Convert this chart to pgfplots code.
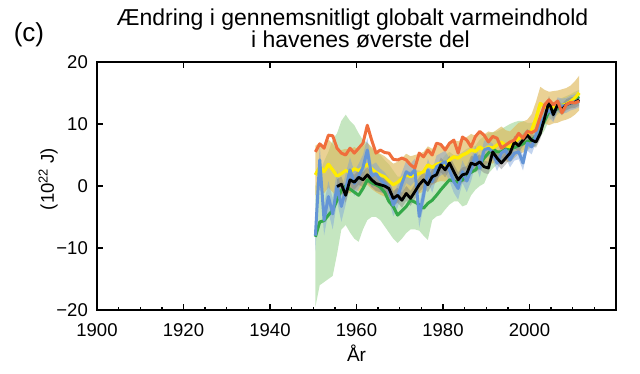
\documentclass[border=0pt]{standalone}
\usepackage{fontspec}
\setmainfont{Liberation Sans}
\usepackage{pgfplots}
\usepackage{pgfplotstable}
\pgfplotsset{compat=1.18}
\usepgfplotslibrary{fillbetween}

\definecolor{cOrange}{RGB}{240,110,60}
\definecolor{cYellow}{RGB}{255,236,0}
\definecolor{cBlue}{RGB}{100,149,214}
\definecolor{cGreen}{RGB}{52,168,72}
\definecolor{bGreen}{RGB}{150,210,140}
\definecolor{bTan}{RGB}{222,185,90}
\definecolor{bBlue}{RGB}{120,160,220}
\definecolor{bGrey}{RGB}{120,120,120}

\pgfplotstableread{
x o yl b g tl tu bl bu gl gu
1950.5 5.5 1.8 -8.0 -8.2 -1.5 6.5 -10.5 -5.5 -19.5 0.0
1951.5 6.8 3.1 4.2 -5.8 -0.5 7.0 1.7 6.7 -16.0 2.0
1952.5 6.1 2.3 -5.5 -5.6 -1.2 6.3 -8.0 -3.0 -15.5 4.0
1953.5 8.2 3.5 -1.7 -4.7 -0.2 7.5 -4.2 0.8 -15.0 5.5
1954.5 8.1 2.6 -4.5 -3.9 -1.0 6.8 -7.0 -2.0 -14.5 7.5
1955.5 6.1 1.6 0.0 -2.3 -1.8 5.8 -2.5 2.5 -11.0 8.5
1956.5 5.3 2.0 -3.3 -0.7 -1.4 5.8 -5.8 -0.8 -7.0 10.5
1957.5 5.0 2.5 -0.5 0.0 -0.9 6.0 -3.0 2.0 -6.3 11.5
1958.5 6.1 2.2 2.6 -0.5 -1.2 5.8 0.6 4.6 -7.5 10.5
1959.5 5.3 2.8 0.4 -1.0 -0.6 6.3 -1.6 2.4 -8.5 9.8
1960.5 6.1 2.5 1.6 -1.5 -0.8 5.8 -0.4 3.6 -9.0 8.5
1961.5 6.9 3.0 3.0 -0.4 -0.3 6.5 1.0 5.0 -7.0 7.4
1962.5 9.8 3.5 5.8 1.0 0.2 7.0 3.8 7.8 -5.5 7.0
1963.5 7.4 2.8 1.6 0.5 -0.5 6.3 -0.2 3.4 -5.0 6.0
1964.5 5.3 2.2 2.0 0.2 -1.0 5.5 0.2 3.8 -5.0 5.5
1965.5 5.8 1.8 1.0 -0.2 -1.4 5.2 -0.8 2.8 -5.5 5.0
1966.5 5.4 1.5 0.4 -1.0 -1.7 4.8 -1.4 2.2 -6.5 4.2
1967.5 5.3 0.8 -0.5 -2.5 -2.4 4.2 -2.3 1.3 -7.5 3.5
1968.5 4.3 0.2 -3.1 -3.3 -3.0 3.6 -4.9 -1.3 -8.5 2.5
1969.5 4.2 0.6 -1.7 -4.7 -2.6 3.9 -3.5 0.1 -9.2 1.5
1970.5 4.5 1.2 0.4 -4.0 -2.1 4.5 -1.4 2.2 -8.5 1.5
1971.5 4.2 1.8 2.3 -3.3 -1.6 5.2 0.5 4.1 -7.6 2.0
1972.5 3.4 1.5 1.8 -2.3 -1.8 4.8 0.0 3.6 -7.0 2.5
1973.5 2.9 1.8 2.6 -2.6 -1.5 5.0 0.8 4.4 -7.0 2.5
1974.5 5.3 2.0 -4.9 -3.0 -1.2 5.2 -6.7 -3.1 -7.2 2.5
1975.5 4.7 2.3 -1.5 -3.6 -0.9 5.5 -3.3 0.3 -8.0 2.0
1976.5 5.8 3.4 2.6 -2.8 0.4 6.4 0.8 4.4 -8.7 2.5
1977.5 5.0 3.0 0.7 -2.3 0.1 6.0 -1.1 2.5 -5.5 3.0
1978.5 6.9 3.5 3.1 -1.5 0.6 6.5 1.3 4.9 -4.9 3.5
1979.5 6.7 3.7 3.5 -0.6 0.8 6.6 1.7 5.3 -4.7 4.0
1980.5 5.8 3.5 3.9 0.2 0.7 6.3 2.1 5.7 -3.8 5.0
1981.5 6.9 4.2 2.6 1.0 1.4 7.0 0.8 4.4 -3.0 5.5
1982.5 7.4 4.7 0.7 0.8 2.0 7.4 -1.1 2.5 -2.5 5.0
1983.5 5.3 4.5 -0.4 0.6 1.8 7.2 -2.2 1.4 -2.5 5.0
1984.5 7.9 5.0 2.3 1.0 2.4 7.6 0.5 4.1 -3.3 5.5
1985.5 7.4 5.3 0.8 1.8 2.7 7.9 -1.0 2.6 -3.0 6.0
1986.5 6.3 5.8 2.6 2.2 3.2 8.4 0.8 4.4 -1.5 6.3
1987.5 8.0 5.6 5.0 2.6 3.1 8.1 3.5 6.5 -0.6 6.5
1988.5 8.8 6.3 2.9 3.5 3.8 8.8 1.4 4.4 0.0 7.5
1989.5 8.2 5.8 5.8 4.5 3.3 8.3 4.3 7.3 0.4 8.0
1990.5 7.1 6.3 6.1 5.3 3.8 8.8 4.8 7.4 2.0 8.5
1991.5 8.0 6.1 5.5 6.0 3.6 8.6 4.2 6.8 2.8 8.7
1992.5 7.7 6.6 3.7 5.5 4.1 9.1 2.4 5.0 3.5 8.8
1993.5 6.1 7.1 5.3 5.5 4.6 9.6 4.1 6.5 4.0 9.2
1994.5 6.6 6.5 5.8 6.0 4.0 9.0 4.6 7.0 4.5 9.6
1995.5 7.1 6.3 4.2 6.0 3.8 8.8 3.0 5.4 4.7 10.0
1996.5 7.4 7.0 5.3 6.2 4.5 9.5 4.1 6.5 5.0 10.3
1997.5 8.5 7.7 5.5 6.5 5.2 10.2 4.3 6.7 5.5 10.5
1998.5 7.7 7.9 3.7 6.8 5.4 10.4 2.5 4.9 5.8 10.5
1999.5 8.8 8.2 6.9 7.2 5.7 10.7 5.7 8.1 6.0 10.2
2000.5 8.6 9.0 6.3 7.4 6.4 11.6 5.1 7.5 6.3 10.2
2001.5 9.0 10.9 8.2 8.0 8.2 13.6 7.0 9.4 6.5 10.5
2002.5 11.2 13.3 10.1 9.3 10.5 16.0 8.9 11.3 7.9 11.3
2003.5 13.1 12.8 11.2 10.5 10.1 15.5 10.0 12.4 9.0 12.3
2004.5 13.9 12.5 12.3 12.0 9.8 15.2 11.1 13.5 10.6 13.3
2005.5 13.1 12.7 11.5 12.0 10.1 15.3 10.3 12.7 11.0 13.5
2006.5 13.7 12.8 13.1 12.5 10.2 15.4 11.9 14.3 11.5 13.8
2007.5 11.8 13.0 12.9 13.0 10.5 15.6 11.7 14.1 12.0 14.2
2008.5 13.1 13.2 13.0 13.2 10.7 15.8 11.8 14.2 12.3 14.5
2009.5 13.5 13.6 13.4 13.5 11.0 16.2 12.2 14.6 12.6 14.8
2010.5 13.4 14.2 13.6 14.0 11.5 16.9 12.4 14.8 13.0 15.2
2011.5 13.7 15.0 13.9 14.4 12.2 17.8 12.7 15.1 13.4 15.5
}\maintab

\pgfplotstableread{
x k kl ku
1955.5 -0.1 -1.3 1.1
1956.5 0.3 -0.9 1.5
1957.5 -1.5 -2.7 -0.3
1958.5 1.0 -0.2 2.2
1959.5 0.6 -0.6 1.8
1960.5 1.4 0.2 2.6
1961.5 1.0 -0.2 2.2
1962.5 1.8 0.6 3.0
1963.5 1.0 -0.2 2.2
1964.5 0.4 -0.8 1.6
1965.5 0.2 -1.0 1.4
1966.5 0.0 -1.2 1.2
1967.5 -0.4 -1.6 0.8
1968.5 -2.0 -3.2 -0.8
1969.5 -1.5 -2.7 -0.3
1970.5 -2.3 -3.5 -1.1
1971.5 -1.2 -2.4 0.0
1972.5 -2.0 -3.2 -0.8
1973.5 -0.9 -2.1 0.3
1974.5 0.2 -1.0 1.4
1975.5 1.0 -0.2 2.2
1976.5 0.2 -1.0 1.4
1977.5 1.5 0.3 2.7
1978.5 1.8 0.6 3.0
1979.5 3.4 2.2 4.6
1980.5 2.6 1.4 3.8
1981.5 3.7 2.5 4.9
1982.5 2.3 1.1 3.5
1983.5 1.0 -0.2 2.2
1984.5 1.8 0.6 3.0
1985.5 2.0 0.8 3.2
1986.5 3.7 2.5 4.9
1987.5 3.4 2.2 4.6
1988.5 3.9 2.7 5.1
1989.5 3.1 2.1 4.1
1990.5 2.9 1.9 3.9
1991.5 5.5 4.5 6.5
1992.5 4.5 3.5 5.5
1993.5 3.7 2.7 4.7
1994.5 4.5 3.5 5.5
1995.5 5.3 4.3 6.3
1996.5 7.1 6.1 8.1
1997.5 6.5 5.5 7.5
1998.5 7.4 6.4 8.4
1999.5 8.2 7.2 9.2
2000.5 7.4 6.4 8.4
2001.5 7.1 6.2 8.0
2002.5 8.5 7.6 9.4
2003.5 11.0 10.1 11.9
2004.5 13.6 12.7 14.5
2005.5 11.5 10.6 12.4
2006.5 13.1 12.2 14.0
2007.5 12.3 11.4 13.2
2008.5 13.1 12.2 14.0
2009.5 13.4 12.5 14.3
2010.5 13.5 12.6 14.4
2011.5 13.9 13.0 14.8
}\blacktab

\begin{document}
\begin{tikzpicture}
\begin{axis}[
  scale only axis, width=519pt, height=248pt,
  xmin=1900, xmax=2020, ymin=-20, ymax=20,
  xtick={1900,1920,1940,1960,1980,2000},
  xticklabels={1900,1920,1940,1960,1980,2000},
  ytick={-20,-10,0,10,20},
  yticklabels={−20,−10,0,10,20},
  tick pos=both, tick align=inside,
  major tick length=6pt,
  every tick/.style={black, line width=1.4pt},
  axis line style={line width=1.6pt},
  ticklabel style={font=\fontsize{18.5}{22}\selectfont, inner sep=0pt},
  xticklabel style={yshift=-13pt},
  yticklabel style={xshift=-9pt},
  xlabel={År},
  xlabel style={at={(rel axis cs:0.5,0)}, anchor=base, yshift=-51.7pt, font=\fontsize{19}{22}\selectfont},
  ylabel={(10\textsuperscript{22} J)},
  ylabel style={at={(rel axis cs:-0.094,0.528)}, anchor=center, font=\fontsize{18.5}{22}\selectfont},
  clip=false,
]
\addplot[name path=GL, draw=none, forget plot] table[x=x,y=gl]{\maintab};
\addplot[name path=GU, draw=none, forget plot] table[x=x,y=gu]{\maintab};
\addplot[fill=bGreen, fill opacity=0.55, draw=none, forget plot] fill between[of=GL and GU];
\addplot[cYellow, line width=3pt, line join=round, forget plot] table[x=x,y=yl]{\maintab};
\addplot[name path=TL, draw=none, forget plot] table[x=x,y=tl]{\maintab};
\addplot[name path=TU, draw=none, forget plot] table[x=x,y=tu]{\maintab};
\addplot[fill=bTan, fill opacity=0.65, draw=none, forget plot] fill between[of=TL and TU];
\addplot[name path=BL, draw=none, forget plot] table[x=x,y=bl]{\maintab};
\addplot[name path=BU, draw=none, forget plot] table[x=x,y=bu]{\maintab};
\addplot[fill=bBlue, fill opacity=0.45, draw=none, forget plot] fill between[of=BL and BU];
\addplot[name path=KL, draw=none, forget plot] table[x=x,y=kl]{\blacktab};
\addplot[name path=KU, draw=none, forget plot] table[x=x,y=ku]{\blacktab};
\addplot[fill=bGrey, fill opacity=0.4, draw=none, forget plot] fill between[of=KL and KU];

\addplot[cGreen, line width=3pt, line join=round] table[x=x,y=g]{\maintab};
\addplot[cYellow, line width=3pt, line join=round, restrict x to domain=1950:1956] table[x=x,y=yl]{\maintab};
\addplot[cYellow, line width=3pt, line join=round, restrict x to domain=1975:2012] table[x=x,y=yl]{\maintab};
\addplot[cBlue, line width=3pt, line join=round] table[x=x,y=b]{\maintab};
\addplot[black, line width=2.8pt, line join=round] table[x=x,y=k]{\blacktab};
\addplot[cOrange, line width=3pt, line join=round] table[x=x,y=o]{\maintab};

\node[anchor=base, inner sep=0pt, font=\fontsize{23}{26}\selectfont] at (rel axis cs:0.5,1) [xshift=-4pt, yshift=36.5pt] {Ændring i gennemsnitligt globalt varmeindhold};
\node[anchor=base, inner sep=0pt, font=\fontsize{23}{26}\selectfont] at (rel axis cs:0.5,1) [xshift=4pt, yshift=14pt] {i havenes øverste del};
\node[font=\fontsize{26}{30}\selectfont] at (rel axis cs:0,1) [xshift=-68pt, yshift=27pt] {(c)};
\end{axis}
\begin{axis}[
  scale only axis, width=519pt, height=248pt,
  xmin=1900, xmax=2020, ymin=-20, ymax=20,
  axis x line*=bottom, axis y line=none,
  xtick={1905,1910,1915,1925,1930,1935,1945,1950,1955,1965,1970,1975,1985,1990,1995,2005,2010,2015},
  xticklabels={},
  tick align=inside, major tick length=3pt,
  every tick/.style={black, line width=1.4pt},
  axis line style={line width=1.6pt},
]
\addplot[draw=none, forget plot] coordinates {(1900,-20) (2020,20)};
\end{axis}
\pgfresetboundingbox
\path[use as bounding box] (-97pt,-64pt) rectangle (543pt,310pt);
\end{tikzpicture}
\end{document}
